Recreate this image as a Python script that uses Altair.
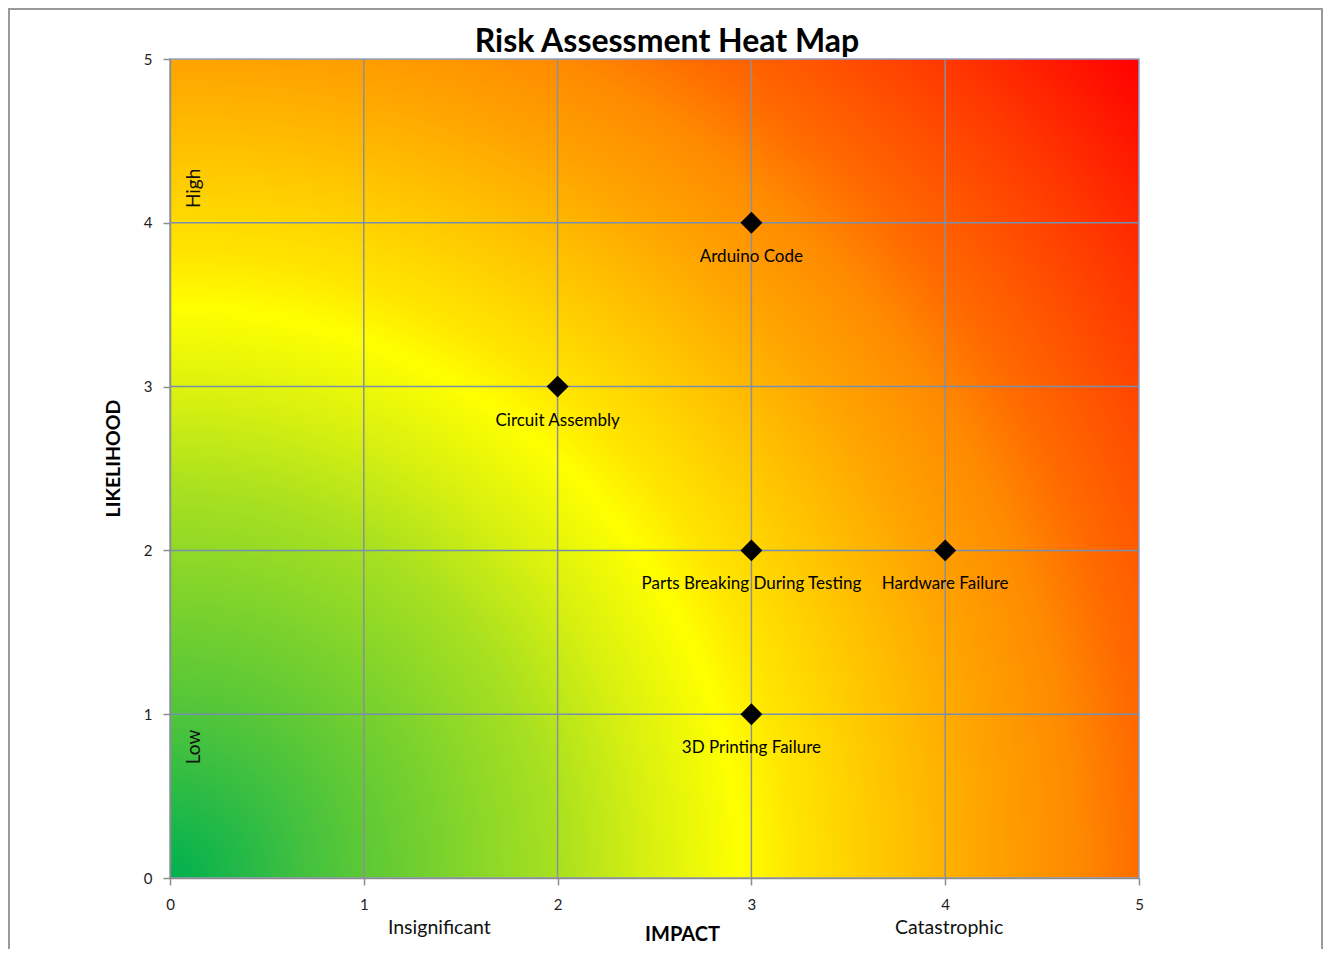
import altair as alt
import pandas as pd

# ---- data ----
risks = ["Arduino Code", "Circuit Assembly", "Parts Breaking During Testing",
         "Hardware Failure", "3D Printing Failure"]
impact = [3, 2, 3, 4, 3]
likelihood = [4, 3, 2, 2, 1]

axis_ticks = [0, 1, 2, 3, 4, 5]

impact_words = ["Insignificant", "Catastrophic"]
impact_word_x = [1.39, 4.02]
impact_word_y = [-0.305, -0.305]

likelihood_words = ["High", "Low"]
likelihood_word_x = [0.125, 0.125]
likelihood_word_y = [4.21, 0.80]

chart_title = "Risk Assessment Heat Map"

# ---- tables ----
pts = pd.DataFrame({"risk": risks, "impact": impact, "likelihood": likelihood})
iw = pd.DataFrame({"t": impact_words, "x": impact_word_x, "y": impact_word_y})
lw = pd.DataFrame({"t": likelihood_words, "x": likelihood_word_x, "y": likelihood_word_y})
bg = pd.DataFrame({"x0": [min(axis_ticks)], "x1": [max(axis_ticks)],
                   "y0": [min(axis_ticks)], "y1": [max(axis_ticks)]})
grid = pd.DataFrame({"v": axis_ticks[1:-1]})

FONT = "Lato"

xscale = alt.Scale(domain=[0, 5], nice=False, zero=False)
yscale = alt.Scale(domain=[0, 5], nice=False, zero=False)

gradient = alt.RadialGradient(
    gradient="radial",
    x1=0, y1=0.9226, r1=0,
    x2=0, y2=0.9226, r2=1.31,
    stops=[
        alt.GradientStop(offset=0.0, color="#00B050"),
        alt.GradientStop(offset=0.102, color="#40C040"),
        alt.GradientStop(offset=0.152, color="#5CC836"),
        alt.GradientStop(offset=0.305, color="#A8E020"),
        alt.GradientStop(offset=0.378, color="#D8F010"),
        alt.GradientStop(offset=0.45, color="#FFFF00"),
        alt.GradientStop(offset=0.49, color="#FFE600"),
        alt.GradientStop(offset=0.645, color="#FFA300"),
        alt.GradientStop(offset=0.714, color="#FF8A00"),
        alt.GradientStop(offset=0.764, color="#FF6C00"),
        alt.GradientStop(offset=0.89, color="#FF3600"),
        alt.GradientStop(offset=1.0, color="#FF0000"),
    ],
)

x_axis = alt.Axis(
    values=axis_ticks, format="d", title="IMPACT",
    titleFont=FONT, titleFontSize=20, titleFontWeight="bold", titleColor="#000",
    titleX=512, titleY=56, titleBaseline="middle", titleAnchor="start", titleAlign="center",
    labelFont=FONT, labelFontSize=15, labelColor="#222", labelPadding=12, labelFlush=False,
    tickSize=7, tickColor="#8C8C8C", tickWidth=1.5,
    domainColor="#8C8C8C", domainWidth=1.5, grid=False, zindex=1,
)
y_axis = alt.Axis(
    values=axis_ticks, format="d", title="LIKELIHOOD",
    titleFont=FONT, titleFontSize=19.5, titleFontWeight="bold", titleColor="#000",
    titleX=-57, titleY=399, titleAngle=270, titleBaseline="middle", titleAlign="center",
    titleAnchor="start",
    labelFont=FONT, labelFontSize=15, labelColor="#222", labelPadding=11, labelFlush=False,
    tickSize=7, tickColor="#8C8C8C", tickWidth=1.5,
    domainColor="#8C8C8C", domainWidth=1.5, grid=False, zindex=1,
)

frame = alt.Chart(pd.DataFrame({"a": [0]})).mark_rect(
    fillOpacity=0, stroke="#9A9A9A", strokeWidth=2
).encode(
    x=alt.value(-161), x2=alt.value(1152),
    y=alt.value(-50), y2=alt.value(905),
)

title_mark = alt.Chart(pd.DataFrame({"t": [chart_title]})).mark_text(
    font=FONT, fontSize=32, fontWeight="bold", color="#000",
    align="center", baseline="alphabetic",
).encode(
    x=alt.value(497), y=alt.value(-7), text="t:N",
)

background = alt.Chart(bg).mark_rect(fill=gradient, stroke="#8EA3C2", strokeWidth=1.5).encode(
    x=alt.X("x0:Q", scale=xscale, axis=x_axis),
    x2="x1:Q",
    y=alt.Y("y0:Q", scale=yscale, axis=y_axis),
    y2="y1:Q",
)

vgrid = alt.Chart(grid).mark_rule(color="#8C9098", strokeWidth=1.5).encode(
    x=alt.X("v:Q", scale=xscale),
)
hgrid = alt.Chart(grid).mark_rule(color="#7890B0", strokeWidth=1.5).encode(
    y=alt.Y("v:Q", scale=yscale),
)

base = alt.Chart(pts)

points = base.mark_point(
    shape="diamond", filled=True, color="#000000", size=480, opacity=1
).encode(
    x=alt.X("impact:Q", scale=xscale),
    y=alt.Y("likelihood:Q", scale=yscale),
)

labels = base.mark_text(
    font=FONT, fontSize=17, color="#000", dy=34, baseline="middle", align="center"
).encode(
    x=alt.X("impact:Q", scale=xscale),
    y=alt.Y("likelihood:Q", scale=yscale),
    text="risk:N",
)

impact_txt = alt.Chart(iw).mark_text(
    font=FONT, fontSize=19.5, color="#111", baseline="middle", align="center"
).encode(
    x=alt.X("x:Q", scale=xscale),
    y=alt.Y("y:Q", scale=yscale),
    text="t:N",
)

like_txt = alt.Chart(lw).mark_text(
    font=FONT, fontSize=19, color="#111", baseline="middle", align="center", angle=270
).encode(
    x=alt.X("x:Q", scale=xscale),
    y=alt.Y("y:Q", scale=yscale),
    text="t:N",
)

chart = alt.layer(
    frame, title_mark, background, vgrid, hgrid, points, labels, impact_txt, like_txt
).properties(
    width=969, height=819,
    padding={"left": 162, "top": 51, "right": 184, "bottom": 71},
    autosize=alt.AutoSizeParams(type="none"),
    background="white",
).configure_view(stroke=None)

chart.save("out.html", embed_options={"renderer": "svg", "actions": False})
